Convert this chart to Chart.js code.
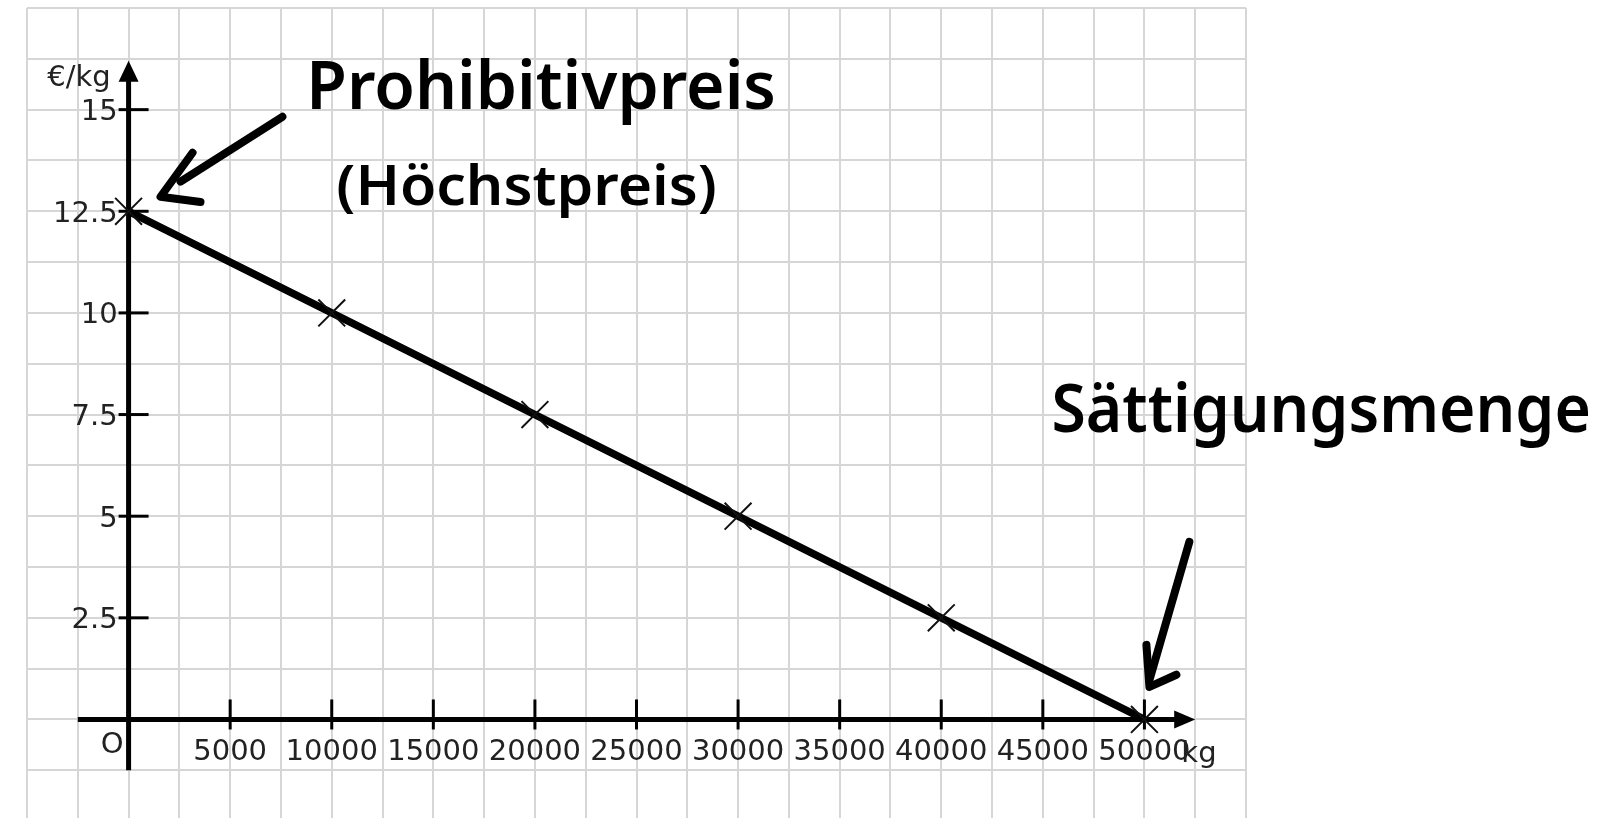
<!DOCTYPE html>
<html><head><meta charset="utf-8">
<script src="https://cdn.jsdelivr.net/npm/chart.js@4.4.1/dist/chart.umd.min.js"></script>
<style>html,body{margin:0;padding:0;background:#fff;overflow:hidden}#wrap{width:1599px;height:818px;position:relative}</style>
</head><body><div id="wrap"><canvas id="c"></canvas></div>
<script>
// ---- data ----
const quantities = [0, 10000, 20000, 30000, 40000, 50000];
const prices = [12.5, 10, 7.5, 5, 2.5, 0];
const xTickValues = [5000, 10000, 15000, 20000, 25000, 30000, 35000, 40000, 45000, 50000];
const xTickLabels = ['5000', '10000', '15000', '20000', '25000', '30000', '35000', '40000', '45000', '50000'];
const yTickValues = [2.5, 5, 7.5, 10, 12.5, 15];
const yTickLabels = ['2.5', '5', '7.5', '10', '12.5', '15'];
const xUnit = 'kg';
const yUnit = '€/kg';
const originLabel = 'O';

// ---- annotations (data coordinates) ----
const notes = [
  {text: 'Prohibitivpreis', x0: 8751, x1: 31859, y: 15.02, size: 66},
  {text: '(Höchstpreis)', x0: 10226, x1: 28958, y: 12.66, size: 56},
  {text: 'Sättigungsmenge', x0: 45428, x1: 71976, y: 7.07, size: 66}
];
const arrows = [
  {shaft: [[7571, 14.825], [2557, 13.23]], head: [[3147, 13.94], [1573, 12.857], [3540, 12.73]]},
  {shaft: [[52212, 4.37], [50246, 0.97]], head: [[50098, 1.835], [50246, 0.80], [51573, 1.10]]}
];

const tickFont = {family: 'DejaVu Sans', size: 29};
const textColor = '#222222';

const axesPlugin = {
  id: 'axesPlugin',
  beforeDatasetsDraw(chart) {
    const ctx = chart.ctx, xs = chart.scales.x, ys = chart.scales.y;
    const px = v => xs.getPixelForValue(v), py = v => ys.getPixelForValue(v);
    const x0 = px(0), y0 = py(0);
    ctx.save();
    ctx.strokeStyle = '#000'; ctx.fillStyle = '#000';
    ctx.lineWidth = 5; ctx.lineCap = 'butt';
    // x axis
    const xTip = px(52500);
    ctx.beginPath(); ctx.moveTo(px(-2500), y0); ctx.lineTo(xTip - 18, y0); ctx.stroke();
    ctx.beginPath(); ctx.moveTo(xTip, y0); ctx.lineTo(xTip - 21, y0 - 9); ctx.lineTo(xTip - 21, y0 + 9); ctx.closePath(); ctx.fill();
    // y axis
    const yTip = py(16.2);
    ctx.beginPath(); ctx.moveTo(x0, py(-1.25)); ctx.lineTo(x0, yTip + 18); ctx.stroke();
    ctx.beginPath(); ctx.moveTo(x0, yTip); ctx.lineTo(x0 - 10, yTip + 21); ctx.lineTo(x0 + 10, yTip + 21); ctx.closePath(); ctx.fill();
    // tick marks
    ctx.lineWidth = 3;
    xTickValues.forEach(v => { ctx.beginPath(); ctx.moveTo(px(v), y0 + 10); ctx.lineTo(px(v), y0 - 20); ctx.stroke(); });
    yTickValues.forEach(v => { ctx.beginPath(); ctx.moveTo(x0 - 10, py(v)); ctx.lineTo(x0 + 20, py(v)); ctx.stroke(); });
    ctx.restore();
  },
  afterDatasetsDraw(chart) {
    const ctx = chart.ctx, xs = chart.scales.x, ys = chart.scales.y;
    const px = v => xs.getPixelForValue(v), py = v => ys.getPixelForValue(v);
    ctx.save();
    // unit labels
    ctx.fillStyle = textColor;
    ctx.font = tickFont.size + 'px "' + tickFont.family + '"';
    ctx.textBaseline = 'alphabetic';
    ctx.textAlign = 'right';
    ctx.fillText(yUnit, px(-885), py(15.59));
    ctx.fillText(originLabel, px(-246), py(-0.82));
    ctx.textAlign = 'left';
    ctx.fillText(xUnit, px(51819), py(-1.05));
    // handwritten notes
    ctx.fillStyle = '#000';
    notes.forEach(n => {
      ctx.font = '600 ' + n.size + 'px "Noto Sans"';
      const w = ctx.measureText(n.text).width;
      const target = px(n.x1) - px(n.x0);
      ctx.save();
      ctx.translate(px(n.x0), py(n.y));
      ctx.scale(target / w, 1);
      ctx.textAlign = 'left';
      ctx.fillText(n.text, 0, 0);
      ctx.restore();
    });
    // arrows
    ctx.strokeStyle = '#000'; ctx.lineWidth = 8; ctx.lineCap = 'round'; ctx.lineJoin = 'round';
    arrows.forEach(a => {
      ctx.beginPath();
      ctx.moveTo(px(a.shaft[0][0]), py(a.shaft[0][1]));
      ctx.lineTo(px(a.shaft[1][0]), py(a.shaft[1][1]));
      ctx.stroke();
      ctx.beginPath();
      a.head.forEach((p, i) => i ? ctx.lineTo(px(p[0]), py(p[1])) : ctx.moveTo(px(p[0]), py(p[1])));
      ctx.stroke();
    });
    ctx.restore();
  }
};

const isGridStep = (v, s) => Math.abs(v / s - Math.round(v / s)) < 1e-6;
const points = quantities.map((q, i) => ({x: q, y: prices[i]}));

new Chart(document.getElementById('c'), {
  type: 'scatter',
  data: {
    datasets: [
      {label: 'Messpunkte', data: points, showLine: false, pointStyle: 'crossRot', pointRadius: 19,
       pointBorderWidth: 2, pointBorderColor: '#111', pointBackgroundColor: '#111', xAxisID: 'x', yAxisID: 'y'},
      {label: 'Nachfrage', data: points, showLine: true, borderColor: '#000', borderWidth: 7.5,
       pointRadius: 0, tension: 0, fill: false, xAxisID: 'x', yAxisID: 'y'}
    ]
  },
  options: {
    responsive: true, maintainAspectRatio: false, animation: false,
    layout: {autoPadding: false, padding: {left: 27, top: 8, right: 353, bottom: 0}},
    plugins: {legend: {display: false}, tooltip: {enabled: false}},
    scales: {
      x: {type: 'linear', position: 'bottom', min: -5000, max: 55000,
          ticks: {display: false, stepSize: 2500},
          afterBuildTicks: s => { s.ticks = s.ticks.filter(t => isGridStep(t.value, 2500)); },
          grid: {color: '#d6d6d6', lineWidth: 2, drawTicks: false}, border: {display: false}},
      y: {type: 'linear', position: 'left', min: -2.42, max: 17.5,
          ticks: {display: false, stepSize: 1.25},
          afterBuildTicks: s => { s.ticks = s.ticks.filter(t => isGridStep(t.value, 1.25)); },
          grid: {color: '#d6d6d6', lineWidth: 2, drawTicks: false}, border: {display: false}},
      xa: {type: 'linear', axis: 'x', position: {y: 0}, min: -5000, max: 55000,
           afterBuildTicks: s => { s.ticks = xTickValues.map(v => ({value: v})); },
           ticks: {autoSkip: false, maxRotation: 0, minRotation: 0, padding: 16, font: tickFont, color: textColor,
                   callback: (v, i) => xTickLabels[i]},
           grid: {display: false, drawTicks: false}, border: {display: false}},
      ya: {type: 'linear', axis: 'y', position: {x: -540}, min: -2.42, max: 17.5,
           afterBuildTicks: s => { s.ticks = yTickValues.map(v => ({value: v})); },
           ticks: {autoSkip: false, padding: 0, labelOffset: 3,
                   font: {family: tickFont.family, size: tickFont.size, lineHeight: 0.01},
                   color: textColor, callback: (v, i) => yTickLabels[i]},
           grid: {display: false, drawTicks: false}, border: {display: false}}
    }
  },
  plugins: [axesPlugin]
});
</script>
</body></html>
